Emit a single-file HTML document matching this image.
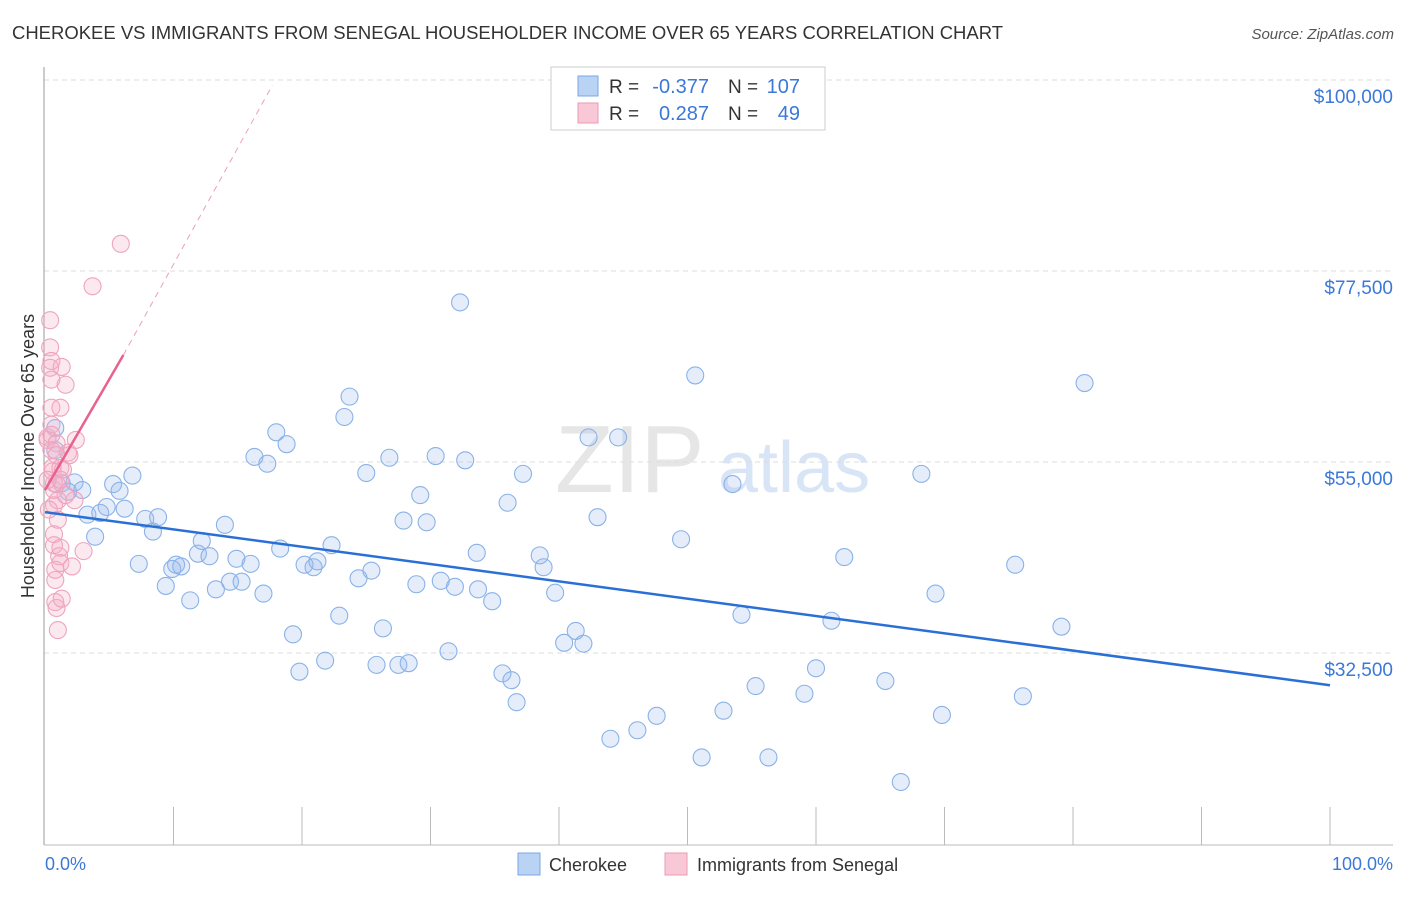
<!DOCTYPE html>
<html><head><meta charset="utf-8"><style>
body{margin:0;background:#fff;font-family:"Liberation Sans",sans-serif;}
svg text{font-family:"Liberation Sans",sans-serif;}
</style></head><body>
<svg id="chart" width="1406" height="892">
<text x="12" y="39" font-size="18" fill="#333" textLength="991" lengthAdjust="spacingAndGlyphs">CHEROKEE VS IMMIGRANTS FROM SENEGAL HOUSEHOLDER INCOME OVER 65 YEARS CORRELATION CHART</text>
<text x="1394" y="39" font-size="15" fill="#555" font-style="italic" text-anchor="end">Source: ZipAtlas.com</text>
<text x="555" y="492" font-size="96" fill="#e6e6e6" font-family="Liberation Serif">ZIP</text>
<text x="718" y="492" font-size="72" fill="#d8e5f6">atlas</text>
<g id="grid"></g>
<line x1="44" y1="67" x2="44" y2="845" stroke="#999"/>
<line x1="44" y1="845" x2="1393" y2="845" stroke="#bbb"/>
<g id="ticks"></g>
<text transform="translate(34,456) rotate(-90)" font-size="18" fill="#333" text-anchor="middle">Householder Income Over 65 years</text>
<text x="45" y="870" font-size="18" fill="#3b78d8">0.0%</text>
<text x="1393" y="870" font-size="18" fill="#3b78d8" text-anchor="end">100.0%</text>
<g id="pts"></g>
<g id="trends"></g>
<g>
<rect x="551" y="67" width="274" height="63" fill="#fff" stroke="#ccc"/>
<rect x="578" y="76" width="20" height="20" fill="#b9d3f5" stroke="#7aa7e6"/>
<rect x="578" y="103" width="20" height="20" fill="#f9c8d7" stroke="#ea9ab5"/>
<text x="609" y="93" font-size="19" fill="#333">R =</text>
<text x="709" y="93" font-size="20" fill="#3b78d8" text-anchor="end">-0.377</text>
<text x="728" y="93" font-size="19" fill="#333">N =</text>
<text x="800" y="93" font-size="20" fill="#3b78d8" text-anchor="end">107</text>
<text x="609" y="120" font-size="19" fill="#333">R =</text>
<text x="709" y="120" font-size="20" fill="#3b78d8" text-anchor="end">0.287</text>
<text x="728" y="120" font-size="19" fill="#333">N =</text>
<text x="800" y="120" font-size="20" fill="#3b78d8" text-anchor="end">49</text>
</g>
<g><rect x="518" y="853" width="22" height="22" fill="#b9d3f5" stroke="#7aa7e6"/><text x="549" y="871" font-size="18" fill="#333">Cherokee</text></g>
<g><rect x="665" y="853" width="22" height="22" fill="#f9c8d7" stroke="#ea9ab5"/><text x="697" y="871" font-size="18" fill="#333">Immigrants from Senegal</text></g>
</svg>
<script>
const yTicks=[100000,77500,55000,32500];
const yTickLabels=["$100,000","$77,500","$55,000","$32,500"];
const xTicks=[0,10,20,30,40,50,60,70,80,90,100];
const blueX=[0.8,0.8,1.3,1.8,2.3,2.9,3.3,3.9,4.3,4.8,5.3,5.8,6.2,6.8,7.3,7.8,8.4,8.8,9.4,9.9,10.2,10.6,11.3,11.9,12.2,12.8,13.3,14.0,14.4,14.9,15.3,16.0,16.3,17.0,17.3,18.0,18.3,18.8,19.3,19.8,20.2,20.9,21.2,21.8,22.3,22.9,23.3,23.7,24.4,25.0,25.4,26.3,25.8,26.8,27.5,28.3,27.9,28.9,29.2,29.7,30.4,30.8,31.4,31.9,32.3,32.7,33.6,33.7,34.8,35.6,36.0,36.3,36.7,37.2,38.5,38.8,39.7,40.4,41.3,41.9,42.3,43.0,44.0,44.6,46.1,47.6,49.5,50.6,51.1,52.8,53.5,54.2,55.3,56.3,59.1,60.0,61.2,62.2,65.4,66.6,68.2,69.3,69.8,75.5,76.1,79.1,80.9];
const blueY=[59.0,56.4,52.5,51.5,52.6,51.7,48.8,46.2,49.0,49.7,52.4,51.6,49.5,53.4,43.0,48.3,46.8,48.5,40.4,42.4,42.9,42.7,38.7,44.2,45.7,43.9,40.0,47.6,40.9,43.6,40.9,43.0,55.6,39.5,54.8,58.5,44.8,57.1,34.7,30.3,42.9,42.6,43.3,31.6,45.2,36.9,60.3,62.7,41.3,53.7,42.2,35.4,31.1,55.5,31.1,31.3,48.1,40.6,51.1,47.9,55.7,41.0,32.7,40.3,73.8,55.2,44.3,40.0,38.6,30.1,50.2,29.3,26.7,53.6,44.0,42.6,39.6,33.7,35.1,33.6,57.9,48.5,22.4,57.9,23.4,25.1,45.9,65.2,20.2,25.7,52.4,37.0,28.6,20.2,27.7,30.7,36.3,43.8,29.2,17.3,53.6,39.5,25.2,42.9,27.4,35.6,64.3];
const pinkX=[0.2,0.2,0.4,0.4,0.4,0.5,0.5,0.5,0.5,0.5,0.6,0.6,0.7,0.7,0.7,0.7,0.7,0.8,0.8,0.9,0.9,0.9,1.0,1.1,1.2,1.2,1.2,1.2,1.2,1.3,1.3,1.6,1.8,1.9,2.1,2.3,2.4,3.0,3.7,5.9,0.5,0.8,1.0,1.4,1.6,1.0,0.2,0.3,0.9];
const pinkY=[57.9,57.6,66.1,71.7,68.5,66.9,64.7,61.4,59.4,58.2,54.4,53.9,52.5,51.7,49.9,46.5,45.2,42.3,38.5,37.8,57.2,52.4,35.2,43.9,44.9,43.1,54.3,52.9,61.4,38.9,66.2,64.1,56.1,55.8,42.7,50.5,57.6,44.5,75.7,80.7,56.4,41.1,50.5,54.1,51.1,48.2,52.9,49.4,55.8];
const blueTrendX=[0,100], blueTrendY=[49.1,28.7];
const pinkTrendX=[0,6.1], pinkTrendY=[51.7,67.6];
const pinkDashX=[6.1,17.7], pinkDashY=[67.6,99.4];

const NS="http://www.w3.org/2000/svg";
function sx(p){return 45+p*12.85;}
function sy(v){return 80+(100000-v)*191/22500;}
function syk(k){return sy(k*1000);}
function mk(tag,attrs,parent){const e=document.createElementNS(NS,tag);for(const k in attrs)e.setAttribute(k,attrs[k]);parent.appendChild(e);return e;}
const grid=document.getElementById('grid');
yTicks.forEach((v,i)=>{
  const l=mk('line',{x1:44,x2:1393,y1:sy(v),y2:sy(v),stroke:'#ddd','stroke-dasharray':'5,4'},grid);
  
  
  const t=mk('text',{x:1393,y:sy(v)+23,'font-size':19,fill:'#3b78d8','text-anchor':'end'},grid);
  t.textContent=yTickLabels[i];
  
  
});
const ticks=document.getElementById('ticks');
xTicks.forEach(p=>{
  const l=mk('line',{x1:sx(p),x2:sx(p),y1:p===0?845:807,y2:845,stroke:'#bbb'},ticks);
  
  
});
const pts=document.getElementById('pts');
blueX.forEach((x,i)=>{
  const c=mk('circle',{cx:sx(x),cy:syk(blueY[i]),r:8.5,fill:'rgba(150,185,235,0.25)',stroke:'#8ab2e8','stroke-width':1.1},pts);
  
  
});
pinkX.forEach((x,i)=>{
  const c=mk('circle',{cx:sx(x),cy:syk(pinkY[i]),r:8.5,fill:'rgba(245,175,200,0.28)',stroke:'#eea4bd','stroke-width':1.1},pts);
  
  
});
const tr=document.getElementById('trends');
let a=mk('line',{x1:sx(blueTrendX[0]),y1:syk(blueTrendY[0]),x2:sx(blueTrendX[1]),y2:syk(blueTrendY[1]),stroke:'#2a6fd6','stroke-width':2.5},tr);


let b=mk('line',{x1:sx(pinkTrendX[0]),y1:syk(pinkTrendY[0]),x2:sx(pinkTrendX[1]),y2:syk(pinkTrendY[1]),stroke:'#e8618f','stroke-width':2.5},tr);


let d=mk('line',{x1:sx(pinkDashX[0]),y1:syk(pinkDashY[0]),x2:sx(pinkDashX[1]),y2:syk(pinkDashY[1]),stroke:'#eaa0b8','stroke-width':1,'stroke-dasharray':'6,5'},tr);


</script>
</body></html>
